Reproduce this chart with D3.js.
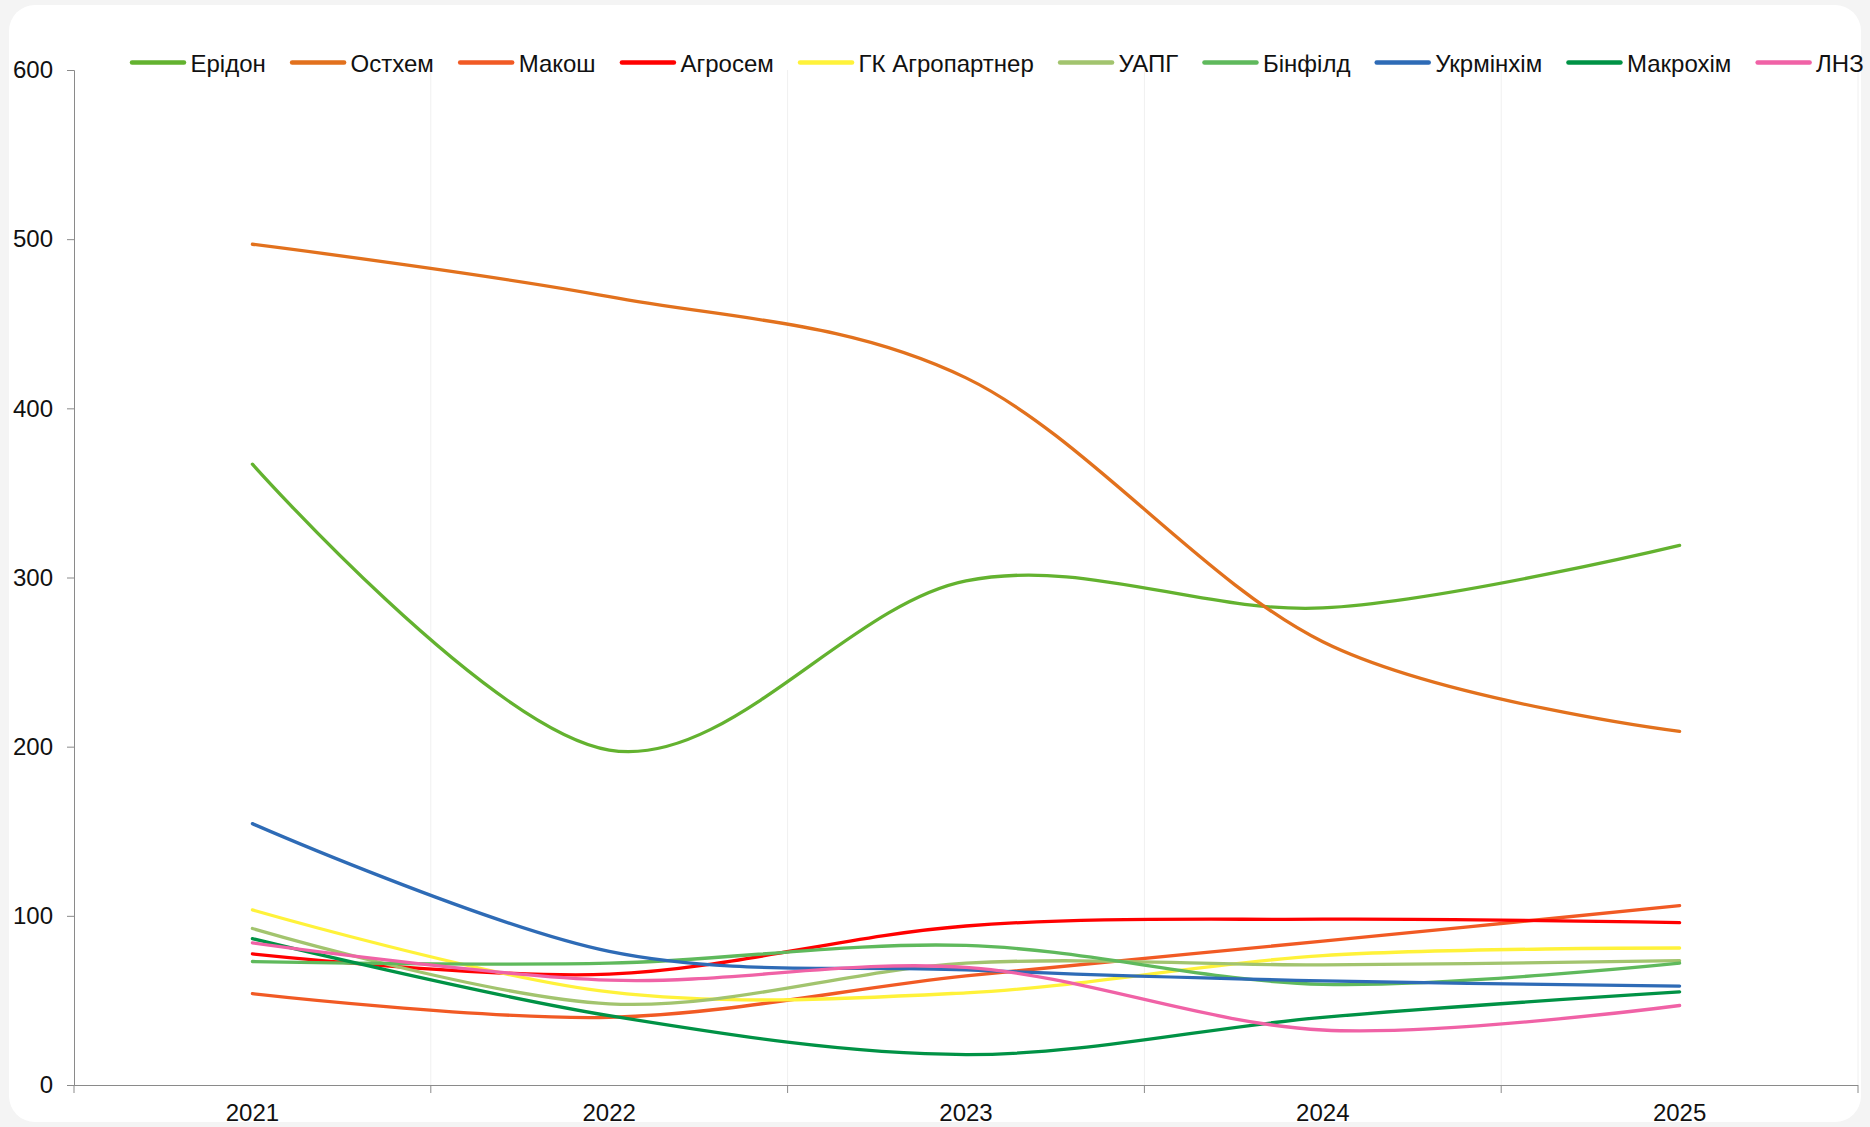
<!DOCTYPE html>
<html><head><meta charset="utf-8">
<script src="https://cdn.jsdelivr.net/npm/d3@7"></script>
<style>
html,body{margin:0;padding:0;background:#f4f4f4;}
svg{display:block;font-family:"Liberation Sans",Arial,sans-serif;}
</style></head>
<body>
<svg id="c" width="1870" height="1127"></svg>
<script>
const years = ["2021","2022","2023","2024","2025"];
const seriesNames = ["Ерідон","Остхем","Макош","Агросем","ГК Агропартнер","УАПГ","Бінфілд","Укрмінхім","Макрохім","ЛНЗ"];
const seriesColors = ["#63b22f","#e2711d","#f15a24","#ff0000","#fff23a","#a2c46e","#5fb95c","#2e6bb6","#009245","#f062a6"];
const eridon   = [367, 198, 298, 282, 319];
const ostkhem  = [497, 466, 418, 262, 209];
const makosh   = [54, 40, 64.5, 85, 106];
const agrosem  = [77.5, 65.5, 94, 98, 96];
const gkAgro   = [103.5, 55, 54.5, 76.5, 81];
const uapg     = [92.5, 48, 72, 71, 73.5];
const binfild  = [73, 72, 82.5, 59.5, 72];
const ukrminkhim = [154.5, 79, 68, 61.5, 58.5];
const makrokhim  = [86.5, 41, 18, 40, 55];
const lnz        = [84, 62, 69.5, 32.5, 47];
const seriesValues = [eridon, ostkhem, makosh, agrosem, gkAgro, uapg, binfild, ukrminkhim, makrokhim, lnz];
const yTicks = [0,100,200,300,400,500,600];

(function(){
const svg = d3.select("#c");
// card
svg.append("rect").attr("x",9).attr("y",5).attr("width",1852).attr("height",1117)
  .attr("rx",26).attr("fill","#ffffff");

const mLeft = 74, mRight = 1858, mTop = 70, mBottom = 1085;
const x = d3.scaleBand().domain(years).range([mLeft, mRight]).padding(0);
const y = d3.scaleLinear().domain([0,600]).range([mBottom, mTop]);

// faint vertical gridlines at category boundaries
const bounds = years.map(d => x(d)).concat([mRight]);
svg.append("g").selectAll("line").data(bounds.slice(1)).join("line")
  .attr("x1", d=>d).attr("x2", d=>d).attr("y1", mTop).attr("y2", mBottom)
  .attr("stroke", "#f0f0f0").attr("stroke-width", 1);

// y axis
const yAxis = svg.append("g").attr("transform",`translate(${mLeft},0)`)
  .call(d3.axisLeft(y).tickValues(yTicks).tickSize(7).tickPadding(14).tickFormat(d3.format("d")));
yAxis.select(".domain").attr("stroke","#8a8a8a");
yAxis.selectAll(".tick line").attr("stroke","#8a8a8a");
yAxis.selectAll("text").attr("font-size",24).attr("fill","#111").attr("font-family","Liberation Sans, Arial, sans-serif");

// x axis
const xAxis = svg.append("g").attr("transform",`translate(0,${mBottom})`)
  .call(d3.axisBottom(x).tickSize(0).tickPadding(19));
xAxis.select(".domain").attr("stroke","#8a8a8a").attr("d",`M${mLeft},0.5H${mRight}`);
xAxis.selectAll("text").attr("font-size",24).attr("fill","#111").attr("font-family","Liberation Sans, Arial, sans-serif");
svg.append("g").selectAll("line").data(bounds).join("line")
  .attr("x1", d=>d).attr("x2", d=>d).attr("y1", mBottom).attr("y2", mBottom+8)
  .attr("stroke","#8a8a8a");

// lines
const line = d3.line()
  .x((d,i) => x(years[i]) + x.bandwidth()/2)
  .y(d => y(d))
  .curve(d3.curveCatmullRom.alpha(0));
svg.append("g").selectAll("path").data(seriesValues).join("path")
  .attr("d", d => line(d))
  .attr("fill","none")
  .attr("stroke",(d,i)=>seriesColors[i])
  .attr("stroke-width",3.3)
  .attr("stroke-linecap","round")
  .attr("stroke-linejoin","round");

// legend
const lg = svg.append("g");
let lx = 132;
seriesNames.forEach((name,i)=>{
  const g = lg.append("g");
  g.append("line").attr("x1",lx).attr("x2",lx+52).attr("y1",62.5).attr("y2",62.5)
    .attr("stroke",seriesColors[i]).attr("stroke-width",4.5).attr("stroke-linecap","round");
  const t = g.append("text").attr("x",lx+58.5).attr("y",63.5).attr("dy","0.35em")
    .attr("font-size",24).attr("fill","#111").text(name);
  const w = t.node().getComputedTextLength();
  lx += 58.5 + w + 26.3;
});
})();
</script>
</body></html>
